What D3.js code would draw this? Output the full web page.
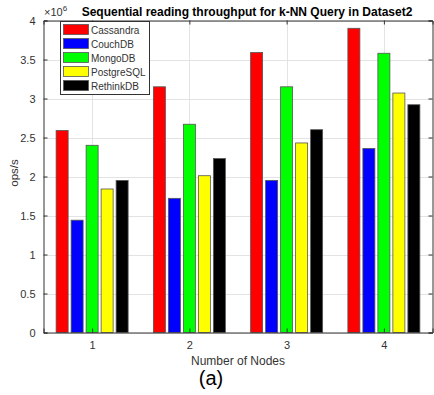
<!DOCTYPE html>
<html><head><meta charset="utf-8">
<script src="https://cdn.jsdelivr.net/npm/d3@7"></script>
<style>body{margin:0;background:#fff;}svg{display:block;font-family:"Liberation Sans",Arial,sans-serif;}</style>
</head><body>
<svg id="c" width="434" height="395"></svg>
<script>
const categories = ["1","2","3","4"];
const seriesNames = ["Cassandra","CouchDB","MongoDB","PostgreSQL","RethinkDB"];
const seriesColors = ["#ff0000","#0000ff","#00ff00","#ffff00","#000000"];
const cassandra = [2.59, 3.15, 3.59, 3.90];
const couchdb = [1.44, 1.72, 1.95, 2.36];
const mongodb = [2.40, 2.67, 3.15, 3.58];
const postgresql = [1.84, 2.01, 2.43, 3.07];
const rethinkdb = [1.95, 2.23, 2.60, 2.92];
const yTicks = [0,0.5,1,1.5,2,2.5,3,3.5,4];
const seriesValues = [cassandra, couchdb, mongodb, postgresql, rethinkdb];

const svg = d3.select("#c");
const L=43.5, R=432.5, T=20.5, B=332.5;
const x = d3.scaleLinear().domain([0.5,4.5]).range([L,R]);
const y = d3.scaleLinear().domain([0,4]).range([B,T]);
const tc="#333333", ac="#333333";

// grid
const g = svg.append("g");
g.selectAll(".gy").data(yTicks).enter().append("line")
 .attr("x1",L).attr("x2",R).attr("y1",d=>Math.round(y(d))+0.5).attr("y2",d=>Math.round(y(d))+0.5)
 .attr("stroke","#e3e3e3").attr("stroke-width",1);
g.selectAll(".gx").data(categories).enter().append("line")
 .attr("x1",(d,i)=>Math.round(x(i+1))+0.5).attr("x2",(d,i)=>Math.round(x(i+1))+0.5).attr("y1",T).attr("y2",B)
 .attr("stroke","#e3e3e3").attr("stroke-width",1);

// bars
const step = 15, bw = 12;
seriesValues.forEach((vals,s)=>{
  svg.append("g").selectAll("rect").data(vals).enter().append("rect")
   .attr("x",(d,i)=>x(i+1)+(s-2)*step-bw/2)
   .attr("width",bw)
   .attr("y",d=>y(d))
   .attr("height",d=>B-y(d))
   .attr("fill",seriesColors[s])
   .attr("stroke","#555").attr("stroke-width",0.8);
});

// axes
const ya = d3.axisLeft(y).tickValues(yTicks).tickSize(-4).tickPadding(8).tickFormat(d3.format("~g"));
const yg = svg.append("g").attr("transform",`translate(${L},0)`).call(ya);
const yr = svg.append("g").attr("transform",`translate(${R},0)`).call(d3.axisRight(y).tickValues(yTicks).tickSize(-4).tickFormat(""));
const xa = d3.axisBottom(x).tickValues([1,2,3,4]).tickSize(-4).tickPadding(9).tickFormat((d,i)=>categories[i]);
const xg = svg.append("g").attr("transform",`translate(0,${B})`).call(xa);
const xt = svg.append("g").attr("transform",`translate(0,${T})`).call(d3.axisTop(x).tickValues([1,2,3,4]).tickSize(-4).tickFormat(""));
[yg,yr,xg,xt].forEach(a=>{
  a.selectAll("path").attr("stroke",ac).attr("stroke-width",1);
  a.selectAll("line").attr("stroke",ac);
  a.selectAll("text").attr("fill",tc).attr("font-size",11).attr("font-family","Liberation Sans, Arial, sans-serif");
});

// title & labels
svg.append("text").attr("x",247).attr("y",16).attr("text-anchor","middle")
 .attr("font-size",12).attr("font-weight","bold").attr("fill","#000")
 .text("Sequential reading throughput for k-NN Query in Dataset2");
const ex = svg.append("text").attr("x",44).attr("y",16).attr("font-size",11).attr("fill",tc);
ex.append("tspan").text("\u00d710");
ex.append("tspan").attr("dy",-5).attr("font-size",8).text("6");
svg.append("text").attr("transform","translate(18,173) rotate(-90)").attr("text-anchor","middle")
 .attr("font-size",11.5).attr("fill",tc).text("ops/s");
svg.append("text").attr("x",238).attr("y",365).attr("text-anchor","middle")
 .attr("font-size",12).attr("fill",tc).text("Number of Nodes");
svg.append("text").attr("x",211).attr("y",385).attr("text-anchor","middle")
 .attr("font-size",20).attr("fill","#000").text("(a)");

// legend
const lg = svg.append("g");
lg.append("rect").attr("x",60.5).attr("y",21.5).attr("width",89).attr("height",73)
 .attr("fill","#fff").attr("stroke",ac).attr("stroke-width",1);
seriesNames.forEach((n,i)=>{
  const yy = 24 + i*14;
  lg.append("rect").attr("x",63.5).attr("y",yy+0.5).attr("width",25).attr("height",10)
   .attr("fill",seriesColors[i]).attr("stroke","#555").attr("stroke-width",0.8);
  lg.append("text").attr("x",91).attr("y",yy+9.5).attr("font-size",10).attr("fill",tc).text(n);
});
</script>
</body></html>
